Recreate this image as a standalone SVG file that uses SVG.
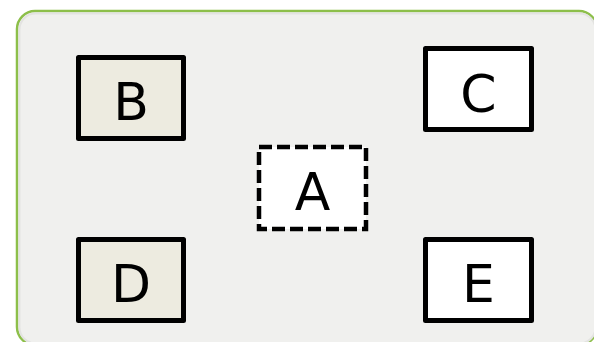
<svg xmlns="http://www.w3.org/2000/svg" width="594" height="342" viewBox="0 0 594 342">
  <defs>
    <style>
      .container { fill: #f0f0ee; stroke: #8dbf4a; stroke-width: 2.5; }
      .inner { fill: none; stroke: #e3e3e1; stroke-width: 2; }
      .box { stroke: #000; stroke-width: 5; stroke-linejoin: round; }
      .shaded { fill: #edebe0; }
      .plain { fill: #ffffff; }
      .dashed { fill: #ffffff; stroke: #000; stroke-width: 4.5; stroke-dasharray: 13 5; }
      .label { font-family: "DejaVu Sans", sans-serif; font-size: 52px; fill: #000; text-anchor: middle; }
    </style>
  </defs>
  <g id="background">
    <rect class="container" x="17" y="11" width="580" height="334" rx="18" ry="18"/>
    <rect class="inner" x="19.5" y="13.5" width="576" height="330" rx="16" ry="16"/>
  </g>
  <g id="connectors"></g>
  <g id="node-B">
    <rect class="box shaded" x="78.5" y="57.5" width="105" height="81"/>
    <text class="label" x="131" y="120">B</text>
  </g>
  <g id="node-C">
    <rect class="box plain" x="425.5" y="48.5" width="106" height="81"/>
    <text class="label" x="478.5" y="112">C</text>
  </g>
  <g id="node-A">
    <rect class="dashed" x="259" y="147" width="107" height="82"/>
    <text class="label" x="312.5" y="210">A</text>
  </g>
  <g id="node-D">
    <rect class="box shaded" x="78.5" y="239.5" width="105" height="81"/>
    <text class="label" x="131" y="302">D</text>
  </g>
  <g id="node-E">
    <rect class="box plain" x="425.5" y="239.5" width="106" height="81"/>
    <text class="label" x="478.5" y="302">E</text>
  </g>
</svg>
